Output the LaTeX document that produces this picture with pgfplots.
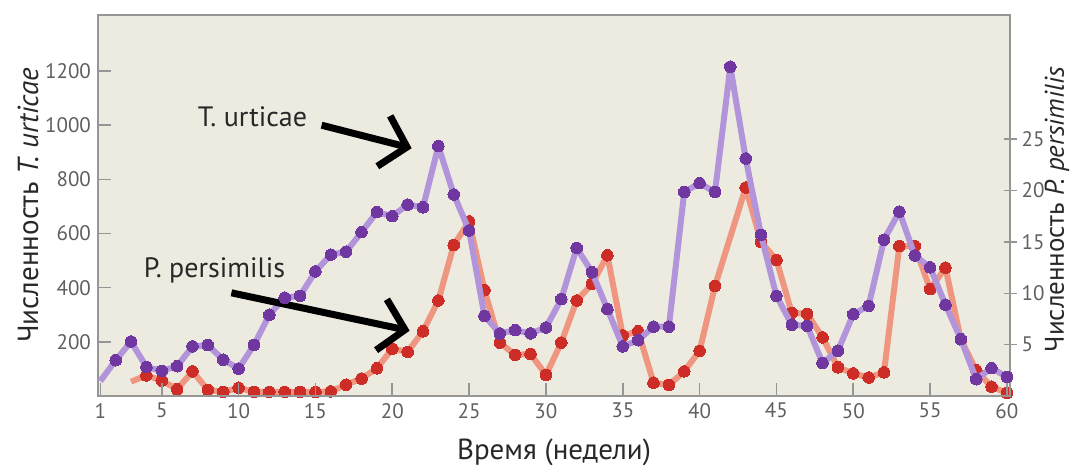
\documentclass[border=0pt]{standalone}
\usepackage{fontspec}
\setmainfont{PT Sans}
\usepackage{pgfplots}
\pgfplotsset{compat=1.18}
\usetikzlibrary{arrows.meta}
\definecolor{bgc}{RGB}{237,235,224}
\definecolor{purpleL}{RGB}{178,148,218}
\definecolor{purpleM}{RGB}{112,55,160}
\definecolor{redL}{RGB}{238,150,128}
\definecolor{redM}{RGB}{205,45,38}
\definecolor{axisgray}{RGB}{150,150,150}
\definecolor{ticktext}{RGB}{95,95,95}
\definecolor{labeltext}{RGB}{40,40,40}
\newcommand{\TickFont}{\fontsize{10.5}{12}\selectfont}
\newcommand{\LabFont}{\fontsize{14.5}{17}\selectfont}
\pgfplotsset{
  common/.style={
    scale only axis, width=456pt, height=190.5pt,
    xmin=0.85, xmax=60.2,
    axis line style={draw=axisgray, line width=0.8pt},
    tick style={draw=axisgray, line width=0.8pt},
    major tick length=6.5pt,
    tick label style={font=\TickFont, text=ticktext},
    /pgf/number format/assume math mode=true,
    /pgf/number format/1000 sep={},
    label style={font=\LabFont, text=labeltext},
  }
}
\begin{document}
\begin{tikzpicture}
% P. persimilis, right axis (drawn first so T. urticae lies on top)
\begin{axis}[common,
    axis background/.style={fill=bgc},
    axis x line=none, axis y line*=right,
    ymin=0, ymax=37.1,
    ytick={5,10,15,20,25},
    tick align=center,
    yticklabel style={xshift=-1pt},
    ylabel={Численность \textit{P. persimilis}},
    ylabel style={at={(axis description cs:1.059,0.49)}, anchor=base, overlay,
      font=\fontsize{13.5}{16}\selectfont},
]
\addplot[redL, line width=3pt, line join=round, mark=*, mark size=2.9pt,
  mark options={solid, fill=redM, draw=redM, line width=0pt}, mark indices={2,...,57}] coordinates {
 (3,1.4) (4,2.0) (5,1.5) (6,0.65) (7,2.4) (8,0.6) (9,0.4) (10,0.8)
 (11,0.4) (12,0.4) (13,0.4) (14,0.4) (15,0.4) (16,0.45) (17,1.1) (18,1.7)
 (19,2.7) (20,4.6) (21,4.3) (22,6.3) (23,9.3) (24,14.7) (25,17.0) (26,10.3)
 (27,5.2) (28,4.0) (29,4.1) (30,2.05) (31,5.2) (32,9.3) (33,10.9) (34,13.7)
 (35,5.9) (36,6.3) (37,1.3) (38,1.07) (39,2.4) (40,4.4) (41,10.7)
 (43,20.3) (44,15.0) (45,13.25) (46,8.1) (47,8.0) (48,5.7) (49,2.8)
 (50,2.2) (51,1.8) (52,2.3) (53,14.6) (54,14.6) (55,10.4) (56,12.5)
 (57,5.5) (58,2.5) (59,0.9) (60,0.3)
};
\end{axis}
% T. urticae, left axis with the frame
\begin{axis}[common,
    ymin=0, ymax=1407,
    xtick={1,5,10,15,20,25,30,35,40,45,50,55,60},
    ytick={200,400,600,800,1000,1200},
    xtick pos=bottom, ytick pos=left,
    tick align=inside,
    xlabel={Время (недели)},
    xlabel style={at={(axis description cs:0.5,-0.147)}, anchor=center},
    ylabel={Численность \textit{T. urticae}},
    ylabel style={at={(axis description cs:-0.0768,0.5)}, anchor=center},
]
\addplot[purpleL, line width=3pt, line join=round, mark=*, mark size=2.9pt,
  mark options={solid, fill=purpleM, draw=purpleM, line width=0pt}, mark indices={2,...,60}] coordinates {
 (1,55) (2,132) (3,201) (4,107) (5,93) (6,110) (7,183) (8,188) (9,134) (10,101)
 (11,188) (12,300) (13,363) (14,370) (15,460) (16,522) (17,533) (18,605)
 (19,679) (20,664) (21,707) (22,697) (23,923) (24,744) (25,611) (26,296)
 (27,231) (28,243) (29,231) (30,253) (31,358) (32,547) (33,457) (34,321)
 (35,183) (36,206) (37,256) (38,256) (39,753) (40,786) (41,753) (42,1216)
 (43,877) (44,595) (45,370) (46,263) (47,259) (48,122) (49,167) (50,302)
 (51,333) (52,577) (53,681) (54,519) (55,475) (56,337) (57,210) (58,62)
 (59,103) (60,70)
};
\node[font=\fontsize{14}{16}\selectfont, text=labeltext] at (axis cs:10.9,1030) {T. urticae};
\node[font=\fontsize{14}{16}\selectfont, text=labeltext] at (axis cs:8.43,463) {P. persimilis};
\draw[black, line width=3.5pt, -{Straight Barb[length=12pt,width=26pt]}]
  (axis cs:15.4,1000) -- (axis cs:21.26,915);
\draw[black, line width=3.5pt, -{Straight Barb[length=12pt,width=26pt]}]
  (axis cs:9.53,381) -- (axis cs:21.13,241);
\end{axis}
\path (-49pt,-36pt) rectangle (487pt,198pt);
\end{tikzpicture}
\end{document}
